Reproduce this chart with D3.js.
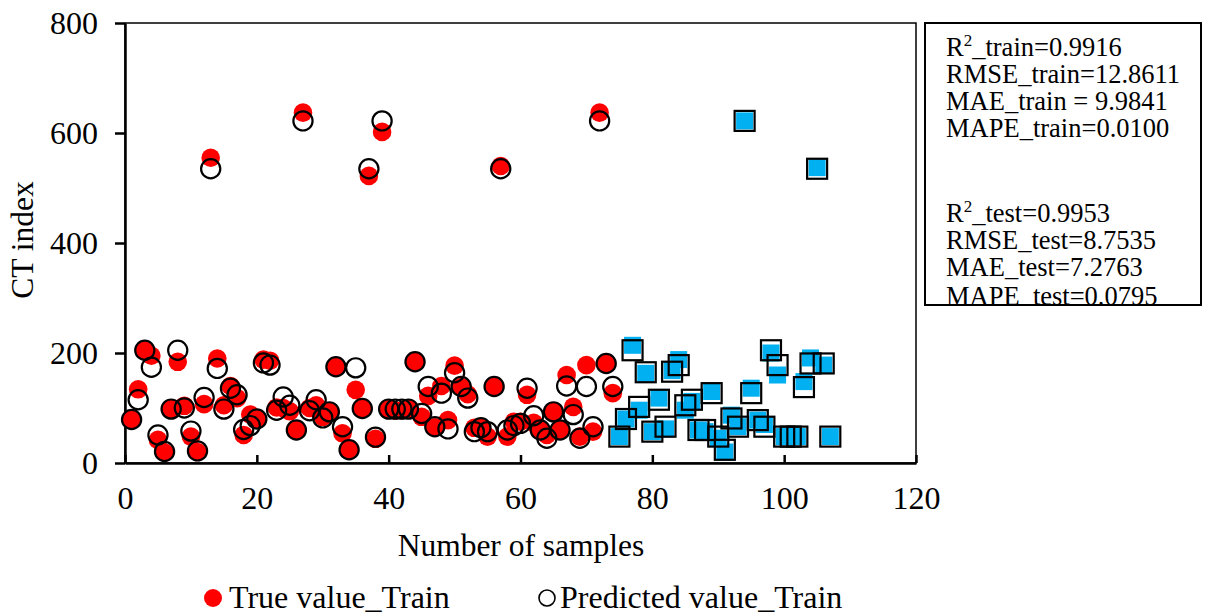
<!DOCTYPE html>
<html>
<head>
<meta charset="utf-8">
<script src="https://cdn.jsdelivr.net/npm/d3@7"></script>
<style>
  html, body { margin: 0; padding: 0; background: #fff; }
  svg { display: block; }
  text { font-family: "Liberation Serif", "Times New Roman", serif; fill: #000; }
</style>
</head>
<body>
<svg id="chart" width="1209" height="614"></svg>
<script>
// Sample numbers and CT index values
const trainSamples = [1,2,3,4,5,6,7,8,9,10,11,12,13,14,15,16,17,18,19,20,21,22,23,24,25,26,27,28,29,30,31,32,33,34,35,36,37,38,39,40,41,42,43,44,45,46,47,48,49,50,51,52,53,54,55,56,57,58,59,60,61,62,63,64,65,66,67,68,69,70,71,72,73,74];
const trueTrain = [79,134,205,195,42,19,98,184,104,48,20,107,555,190,105,140,118,51,88,80,188,186,101,100,94,60,637,100,105,84,93,175,54,24,133,99,522,44,602,98,95,96,98,184,84,122,65,140,78,177,138,125,64,64,48,140,540,48,75,75,124,73,60,51,93,60,160,102,48,178,57,637,181,127];
const predTrain = [79,115,205,174,51,21,98,205,100,58,22,119,535,172,98,136,124,61,68,80,182,178,96,120,105,60,622,95,115,82,93,175,66,24,173,99,535,47,622,98,98,98,98,184,90,139,66,127,62,164,139,118,57,64,57,139,535,60,68,72,136,86,60,45,93,60,140,88,45,139,66,622,181,139];

const testSamples = [75,76,77,78,79,80,81,82,83,84,85,86,87,88,89,90,91,92,93,94,95,96,97,98,99,100,101,102,103,104,105,106,107];
const trueTest = [48,80,214,96,163,57,118,62,168,188,96,112,60,57,130,45,20,87,66,622,136,78,70,200,160,48,48,48,148,191,537,178,48];
const predTest = [48,80,205,102,165,57,115,66,166,178,105,115,60,60,127,48,24,81,66,622,127,78,66,205,178,48,48,48,138,181,535,181,48];

const xTicks = [0,20,40,60,80,100,120];
const yTicks = [0,200,400,600,800];

const statsLines = [
  ["R", "2", "_train=0.9916"],
  ["RMSE_train=12.8611"],
  ["MAE_train = 9.9841"],
  ["MAPE_train=0.0100"],
  ["R", "2", "_test=0.9953"],
  ["RMSE_test=8.7535"],
  ["MAE_test=7.2763"],
  ["MAPE_test=0.0795"]
];
const legendLabels = ["True value_Train", "Predicted value_Train"];

const RED = "#ff0000", BLUE = "#00b0f0";

const svg = d3.select("#chart");
const x = d3.scaleLinear().domain([0, 120]).range([125, 916]);
const y = d3.scaleLinear().domain([0, 800]).range([463, 23]);

// plot area frame
svg.append("rect")
  .attr("x", x(0)).attr("y", y(800))
  .attr("width", x(120) - x(0)).attr("height", y(0) - y(800))
  .attr("fill", "none").attr("stroke", "#000").attr("stroke-width", 1.5);

// axes
const yAxis = svg.append("g").attr("transform", `translate(${x(0)},0)`)
  .call(d3.axisLeft(y).tickValues(yTicks).tickSize(10).tickSizeOuter(0).tickPadding(17));
const xAxis = svg.append("g").attr("transform", `translate(0,${y(0)})`)
  .call(d3.axisBottom(x).tickValues(xTicks).tickSize(-8).tickSizeOuter(0).tickPadding(23));
[xAxis, yAxis].forEach(g => {
  g.select(".domain").attr("stroke", "#000").attr("stroke-width", 2.5);
  g.selectAll(".tick line").attr("stroke", "#000").attr("stroke-width", 2.5);
  g.selectAll(".tick text").attr("font-size", 32)
    .attr("font-family", "'Liberation Serif', 'Times New Roman', serif").attr("fill", "#000");
});

// axis titles
svg.append("text").attr("x", 521).attr("y", 556)
  .attr("text-anchor", "middle").attr("font-size", 31.5).text("Number of samples");
svg.append("text").attr("transform", "translate(33,240) rotate(-90)")
  .attr("text-anchor", "middle").attr("font-size", 31.5).text("CT index");

// markers
const plot = svg.append("g");
const train = trainSamples.map((s, i) => ({ s, t: trueTrain[i], p: predTrain[i] }));
const test = testSamples.map((s, i) => ({ s, t: trueTest[i], p: predTest[i] }));

plot.selectAll("circle.true").data(train).join("circle")
  .attr("class", "true")
  .attr("cx", d => x(d.s)).attr("cy", d => y(d.t)).attr("r", 9.3)
  .attr("fill", RED);
plot.selectAll("circle.pred").data(train).join("circle")
  .attr("class", "pred")
  .attr("cx", d => x(d.s)).attr("cy", d => y(d.p)).attr("r", 9.6)
  .attr("fill", "none").attr("stroke", "#000").attr("stroke-width", 2.2);

const bs = 17, ps = 20;
plot.selectAll("rect.true").data(test).join("rect")
  .attr("class", "true")
  .attr("x", d => x(d.s) - bs / 2).attr("y", d => y(d.t) - bs / 2)
  .attr("width", bs).attr("height", bs).attr("fill", BLUE);
plot.selectAll("rect.pred").data(test).join("rect")
  .attr("class", "pred")
  .attr("x", d => x(d.s) - ps / 2).attr("y", d => y(d.p) - ps / 2)
  .attr("width", ps).attr("height", ps)
  .attr("fill", "none").attr("stroke", "#000").attr("stroke-width", 2.2);

// statistics box
const box = svg.append("g");
box.append("clipPath").attr("id", "boxclip").append("rect")
  .attr("x", 925).attr("y", 23).attr("width", 276).attr("height", 282);
const boxText = box.append("g").attr("clip-path", "url(#boxclip)");
const baselines = [56, 83, 110, 137, 222, 249, 276, 305];
statsLines.forEach((parts, i) => {
  const t = boxText.append("text").attr("x", 946).attr("y", baselines[i]).attr("font-size", 26.5);
  if (parts.length === 3) {
    t.append("tspan").text(parts[0]);
    t.append("tspan").attr("dy", -10).attr("font-size", 17).text(parts[1]);
    t.append("tspan").attr("dy", 10).text(parts[2]);
  } else {
    t.text(parts[0]);
  }
});
box.append("rect").attr("x", 925).attr("y", 23).attr("width", 276).attr("height", 282)
  .attr("fill", "none").attr("stroke", "#000").attr("stroke-width", 2);

// legend
const lg = svg.append("g");
lg.append("circle").attr("cx", 213).attr("cy", 598).attr("r", 9).attr("fill", RED);
lg.append("text").attr("x", 229).attr("y", 608).attr("font-size", 32).text(legendLabels[0]);
lg.append("circle").attr("cx", 547).attr("cy", 598).attr("r", 8).attr("fill", "none")
  .attr("stroke", "#000").attr("stroke-width", 1.6);
lg.append("text").attr("x", 560).attr("y", 608).attr("font-size", 32).text(legendLabels[1]);
</script>
</body>
</html>
